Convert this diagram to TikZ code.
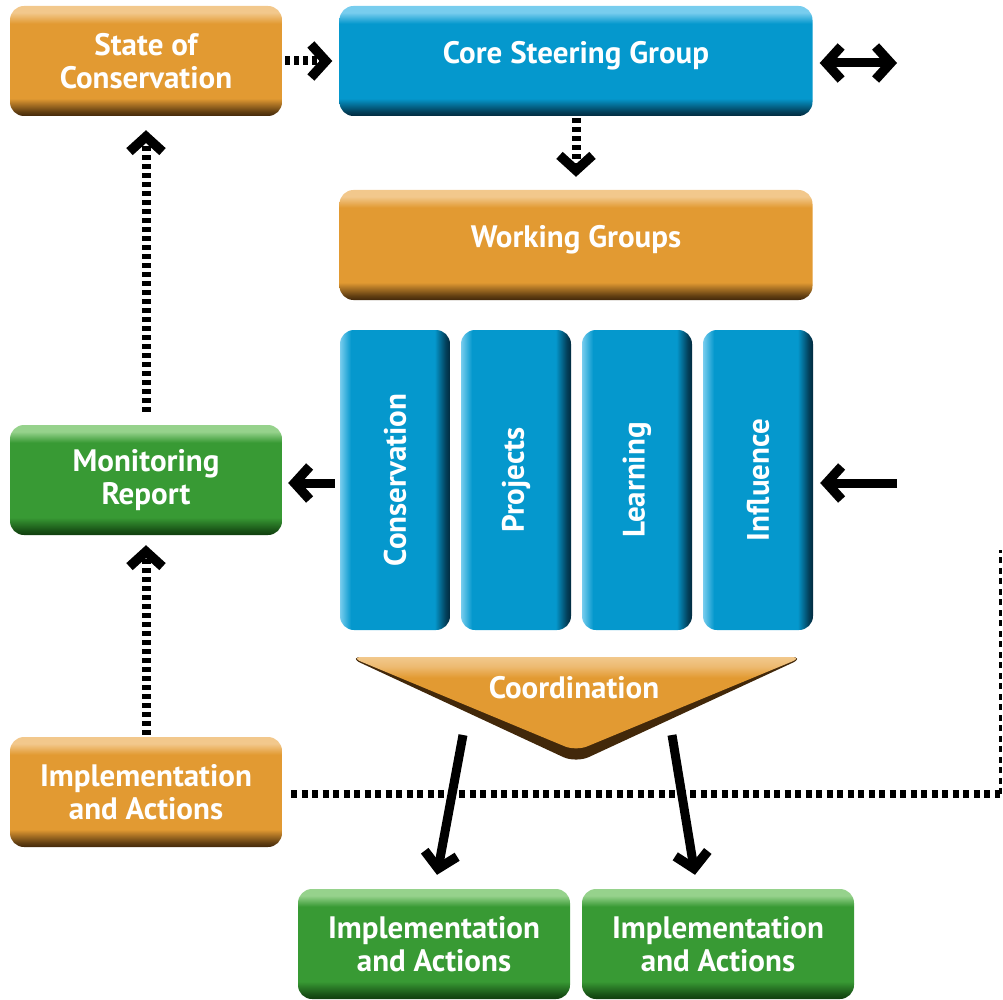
\documentclass[tikz,border=0pt]{standalone}
\usepackage{fontspec}
\setmainfont{PT Sans}
\usetikzlibrary{arrows.meta}

\definecolor{orMain}{RGB}{226,154,50}
\definecolor{orDark}{RGB}{66,40,10}
\definecolor{orLight}{RGB}{242,200,140}
\definecolor{blMain}{RGB}{5,152,205}
\definecolor{blDark}{RGB}{2,42,62}
\definecolor{blLight}{RGB}{120,205,238}
\definecolor{grMain}{RGB}{56,154,52}
\definecolor{grDark}{RGB}{16,62,14}
\definecolor{grLight}{RGB}{150,210,140}

% bevel shadings: the path covers 25bp..75bp
\pgfdeclareverticalshading{orbox}{100bp}{color(0bp)=(orDark); color(25bp)=(orDark); color(27bp)=(orDark!80!orMain); color(33bp)=(orMain); color(67bp)=(orMain); color(72bp)=(orLight); color(75bp)=(orLight); color(100bp)=(orLight)}
\pgfdeclareverticalshading{blbox}{100bp}{color(0bp)=(blDark); color(25bp)=(blDark); color(27bp)=(blDark!80!blMain); color(33bp)=(blMain); color(67bp)=(blMain); color(72bp)=(blLight); color(75bp)=(blLight); color(100bp)=(blLight)}
\pgfdeclareverticalshading{grbox}{100bp}{color(0bp)=(grDark); color(25bp)=(grDark); color(27bp)=(grDark!80!grMain); color(33bp)=(grMain); color(67bp)=(grMain); color(72bp)=(grLight); color(75bp)=(grLight); color(100bp)=(grLight)}
\pgfdeclarehorizontalshading{blcol}{100bp}{color(0bp)=(blLight); color(25bp)=(blLight); color(30bp)=(blMain); color(68bp)=(blMain); color(73bp)=(blDark!80!blMain); color(75bp)=(blDark); color(100bp)=(blDark)}
\pgfdeclareverticalshading{ortri}{100bp}{color(0bp)=(orMain); color(64bp)=(orMain); color(70bp)=(orLight!70!orMain); color(75bp)=(orLight); color(100bp)=(orLight)}

\begin{document}
\begin{tikzpicture}[x=1pt,y=-1pt,
    >={Straight Barb[length=15pt,width=33pt,line width=9.5pt,sharp]},
    label/.style={text=white, font=\bfseries\fontsize{31}{33}\selectfont},
    box/.style={label, rounded corners=14pt, minimum width=272pt, minimum height=110pt,
      inner sep=0pt, align=center},
    orangebox/.style={box, shade, shading=orbox},
    bluebox/.style={box, shade, shading=blbox, minimum width=473pt},
    greenbox/.style={box, shade, shading=grbox},
    groupbox/.style={box, shade, shading=blcol, minimum width=110pt, minimum height=300pt},
    solidarrow/.style={line width=9pt, ->},
    dotarrow/.style={solidarrow, dash pattern=on 5pt off 4pt},
    dotline/.style={line width=8pt, dash pattern=on 6pt off 4.5pt},
    thindot/.style={line width=3pt, dash pattern=on 6pt off 4.5pt}]
  \useasboundingbox (0,0) rectangle (1003,1000);

  % boxes
  \node[orangebox] (soc) at (146,61) {State of\\Conservation};
  \node[bluebox] (csg) at (576,61) {\raisebox{5pt}[\height][\depth]{Core Steering Group}};
  \node[orangebox, minimum width=473pt] (wg) at (576,245) {\raisebox{5pt}[\height][\depth]{Working Groups}};
  \node[groupbox] (cons) at (395,480) {};
  \node[groupbox] (proj) at (516,480) {};
  \node[groupbox] (learn) at (637,480) {};
  \node[groupbox] (infl) at (758,480) {};
  \node[label, rotate=90] at (cons) {Conservation};
  \node[label, rotate=90] at (proj) {Projects};
  \node[label, rotate=90] at (learn) {Learning};
  \node[label, rotate=90] at (infl) {Influence};
  \node[greenbox] (mon) at (146,480) {Monitoring\\Report};
  \node[orangebox] (impl) at (146,792) {Implementation\\and Actions};
  \node[greenbox] (implA) at (434,944) {Implementation\\and Actions};
  \node[greenbox] (implB) at (718,944) {Implementation\\and Actions};

  % coordination wedge
  \fill[orDark, rounded corners=14pt] (348,657) -- (805,657) -- (576,763) -- cycle;
  \shade[shading=ortri, rounded corners=12pt] (350,657) -- (803,657) -- (576,751) -- cycle;
  \node[label] (coord) at (574,688) {Coordination};

  \coordinate (outR) at (897,63);
  \coordinate (inR) at (897,483);
  \coordinate (coL) at (463,735);
  \coordinate (coR) at (672,735);
  \coordinate (corner) at (1000,794);
  \coordinate (topR) at (1000,550);

  % connectors
  \draw[dotarrow] ([xshift=3pt]soc.east) -- ([xshift=-7pt]csg.west);
  \draw[solidarrow, <->] ([xshift=7pt,yshift=-2pt]csg.east) -- (outR);
  \draw[dotarrow] ([yshift=-2pt]csg.south) -- ([yshift=13pt]wg.north);
  \draw[dotarrow] ([yshift=13pt]mon.north) -- ([yshift=-14pt]soc.south);
  \draw[dotarrow] ([yshift=2pt]impl.north) -- ([yshift=-10pt]mon.south);
  \draw[solidarrow] ([xshift=-5pt,yshift=-3pt]cons.west) -- ([xshift=6pt,yshift=-3pt]mon.east);
  \draw[solidarrow] (inR) -- ([xshift=7pt,yshift=-3pt]infl.east);
  \draw[solidarrow] (coL) -- ([xshift=3pt,yshift=14pt]implA.north);
  \draw[solidarrow] (coR) -- ([xshift=-23pt,yshift=14pt]implB.north);
  \draw[dotline] ([xshift=9pt,yshift=-2pt]impl.east) -- (corner);
  \draw[thindot] (corner) -- (topR);
\end{tikzpicture}
\end{document}
